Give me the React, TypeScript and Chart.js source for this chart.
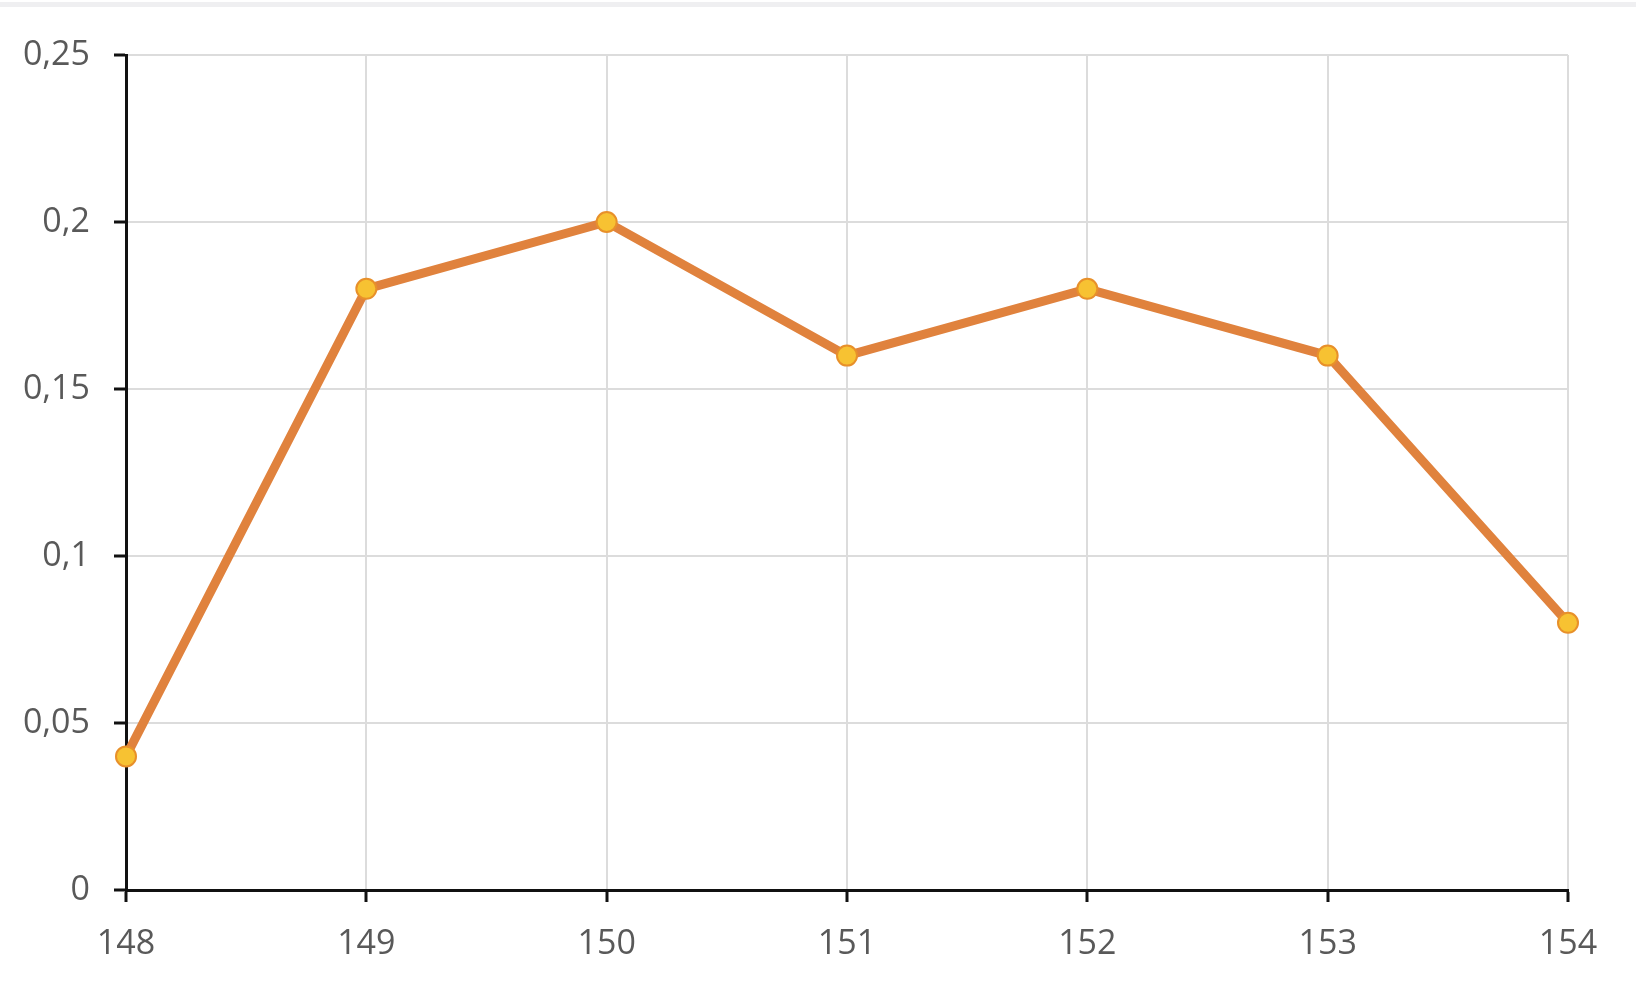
import React, { useEffect, useRef } from "react";
import { Chart, registerables } from "chart.js";

Chart.register(...registerables);

const xValues = [148, 149, 150, 151, 152, 153, 154];
const yValues = [0.04, 0.18, 0.2, 0.16, 0.18, 0.16, 0.08];
const yTickLabels: Record<string, string> = {
  "0": "0",
  "0.05": "0,05",
  "0.1": "0,1",
  "0.15": "0,15",
  "0.2": "0,2",
  "0.25": "0,25",
};

export default function App() {
  const ref = useRef<HTMLCanvasElement | null>(null);

  useEffect(() => {
    if (!ref.current) return;
    const font = { family: "'Open Sans', sans-serif", size: 34 };
    const chart = new Chart(ref.current, {
      type: "line",
      data: {
        datasets: [
          {
            data: xValues.map((x, i) => ({ x, y: yValues[i] })),
            borderColor: "#E0823D",
            borderWidth: 9,
            pointRadius: 10,
            pointBorderWidth: 2,
            pointBackgroundColor: "#F7C232",
            pointBorderColor: "#E8902A",
            tension: 0,
            clip: false as any,
          },
        ],
      },
      options: {
        animation: false,
        responsive: false,
        maintainAspectRatio: false,
        layout: { padding: { left: 0, right: 68, top: 55, bottom: 0 } },
        plugins: { legend: { display: false }, tooltip: { enabled: false } },
        scales: {
          x: {
            type: "linear",
            min: 148,
            max: 154,
            ticks: {
              stepSize: 1,
              color: "#595959",
              font,
              padding: 22,
              callback: (v: any) => String(v),
            },
            grid: {
              color: "#dcdcdc",
              lineWidth: 2,
              tickColor: "#111",
              tickLength: 12,
              tickWidth: 3,
            },
            border: { color: "#111", width: 3 },
            afterFit: (s: any) => {
              s.height = 95;
            },
          },
          y: {
            min: 0,
            max: 0.25,
            ticks: {
              stepSize: 0.05,
              color: "#595959",
              font,
              padding: 24,
              callback: (v: any) => {
                const k = String(Math.round(Number(v) * 100) / 100);
                return yTickLabels[k] ?? k.replace(".", ",");
              },
            },
            grid: {
              color: "#dcdcdc",
              lineWidth: 2,
              tickColor: "#111",
              tickLength: 12,
              tickWidth: 3,
            },
            border: { color: "#111", width: 3 },
            afterFit: (s: any) => {
              s.width = 126;
            },
          },
        },
      },
    });
    return () => chart.destroy();
  }, []);

  return (
    <div
      style={{
        position: "fixed",
        left: 0,
        top: 0,
        width: 1636,
        height: 985,
        background: "#fff",
      }}
    >
      <div
        style={{
          position: "absolute",
          left: 0,
          top: 2,
          width: 1636,
          height: 5,
          background: "#efeff1",
        }}
      />
      <canvas
        ref={ref}
        width={1636}
        height={985}
        style={{ position: "absolute", left: 0, top: 0, width: 1636, height: 985 }}
      />
    </div>
  );
}
